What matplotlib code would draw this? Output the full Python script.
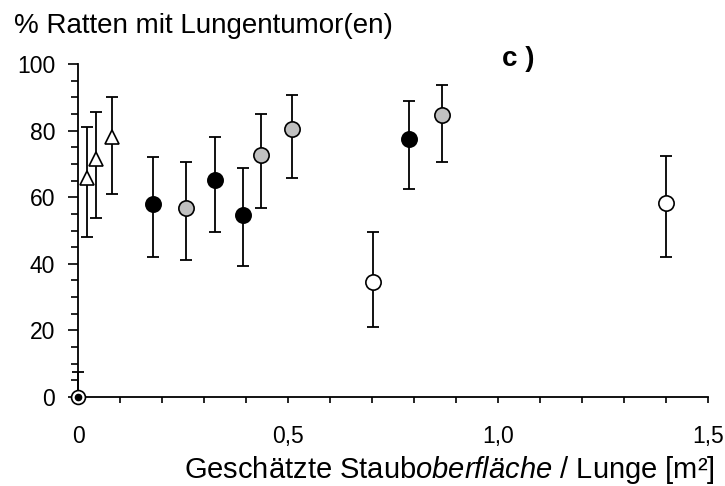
import numpy as np
import matplotlib.pyplot as plt
from matplotlib.ticker import MultipleLocator

plt.rcParams['font.family'] = ['Liberation Sans', 'DejaVu Sans']
plt.rcParams['mathtext.fontset'] = 'custom'
plt.rcParams['mathtext.rm'] = 'Liberation Sans'
plt.rcParams['mathtext.it'] = 'Liberation Sans:italic'

# triangles (open)
tri_x = [0.021, 0.043, 0.081]
tri_y = [65.8, 71.5, 78.0]
tri_lo = [48.0, 53.7, 61.0]
tri_hi = [81.0, 85.6, 90.0]

# black circles
blk_x = [0.179, 0.325, 0.394, 0.787]
blk_y = [58.0, 65.2, 54.7, 77.6]
blk_lo = [42.0, 49.5, 39.4, 62.5]
blk_hi = [72.0, 78.2, 68.7, 88.9]

# grey circles
gry_x = [0.257, 0.435, 0.509, 0.867]
gry_y = [56.8, 72.8, 80.5, 84.8]
gry_lo = [41.0, 56.7, 65.8, 70.7]
gry_hi = [70.5, 85.0, 90.8, 93.7]

# white circles
wht_x = [0.703, 1.40]
wht_y = [34.4, 58.3]
wht_lo = [21.0, 42.1]
wht_hi = [49.5, 72.5]

# control
ctl_x = [0.0]
ctl_y = [0.0]
ctl_lo = [0.0]
ctl_hi = [7.5]

fig = plt.figure(figsize=(7.25, 4.86), dpi=100)
ax = fig.add_axes([0.1076, 0.1831, 0.869, 0.6852])


def draw(x, y, lo, hi, marker, face, ms):
    y = np.array(y)
    err = [y - np.array(lo), np.array(hi) - y]
    ax.errorbar(x, y, yerr=err, fmt='none', ecolor='black', elinewidth=1.3,
                capsize=4.5, capthick=1.3, zorder=2, clip_on=False)
    ax.plot(x, y, linestyle='none', marker=marker, markersize=ms,
            markerfacecolor=face, markeredgecolor='black', markeredgewidth=1.2,
            zorder=3, clip_on=False)


draw(tri_x, tri_y, tri_lo, tri_hi, '^', 'white', 10.5)
draw(blk_x, blk_y, blk_lo, blk_hi, 'o', 'black', 11)
draw(gry_x, gry_y, gry_lo, gry_hi, 'o', '#c0c0c0', 11)
draw(wht_x, wht_y, wht_lo, wht_hi, 'o', 'white', 11)
draw(ctl_x, ctl_y, ctl_lo, ctl_hi, 'o', 'white', 10)
ax.plot(ctl_x, ctl_y, linestyle='none', marker='o', markersize=4.5,
        color='black', zorder=4, clip_on=False)

ax.set_xlim(0, 1.5)
ax.set_ylim(0, 100)
ax.spines['top'].set_visible(False)
ax.spines['right'].set_visible(False)
ax.spines['left'].set_linewidth(1.3)
ax.spines['bottom'].set_linewidth(1.3)

ax.set_xticks([0, 0.5, 1.0, 1.5])
ax.set_xticklabels(['0', '0,5', '1,0', '1,5'])
ax.xaxis.set_minor_locator(MultipleLocator(0.1))
ax.set_yticks([0, 20, 40, 60, 80, 100])
ax.yaxis.set_minor_locator(MultipleLocator(5))

ax.tick_params(axis='x', which='both', direction='out', length=4, width=1.2,
               labelsize=16.5, pad=16)
ax.tick_params(axis='y', which='major', direction='out', length=7, width=1.2,
               labelsize=16.5, pad=9.5)
ax.tick_params(axis='y', which='minor', direction='out', length=5, width=1.2)

fig.text(0.02, 0.932, '% Ratten mit Lungentumor(en)', fontsize=20,
         ha='left', va='baseline')
fig.text(0.692, 0.865, 'c )', fontsize=20, fontweight='bold',
         ha='left', va='baseline')
fig.text(0.986, 0.0165, 'Geschätzte Staub$\\it{oberfläche}$ / Lunge [m²]',
         fontsize=21, ha='right', va='baseline')

fig.savefig('out.png', dpi=100)
